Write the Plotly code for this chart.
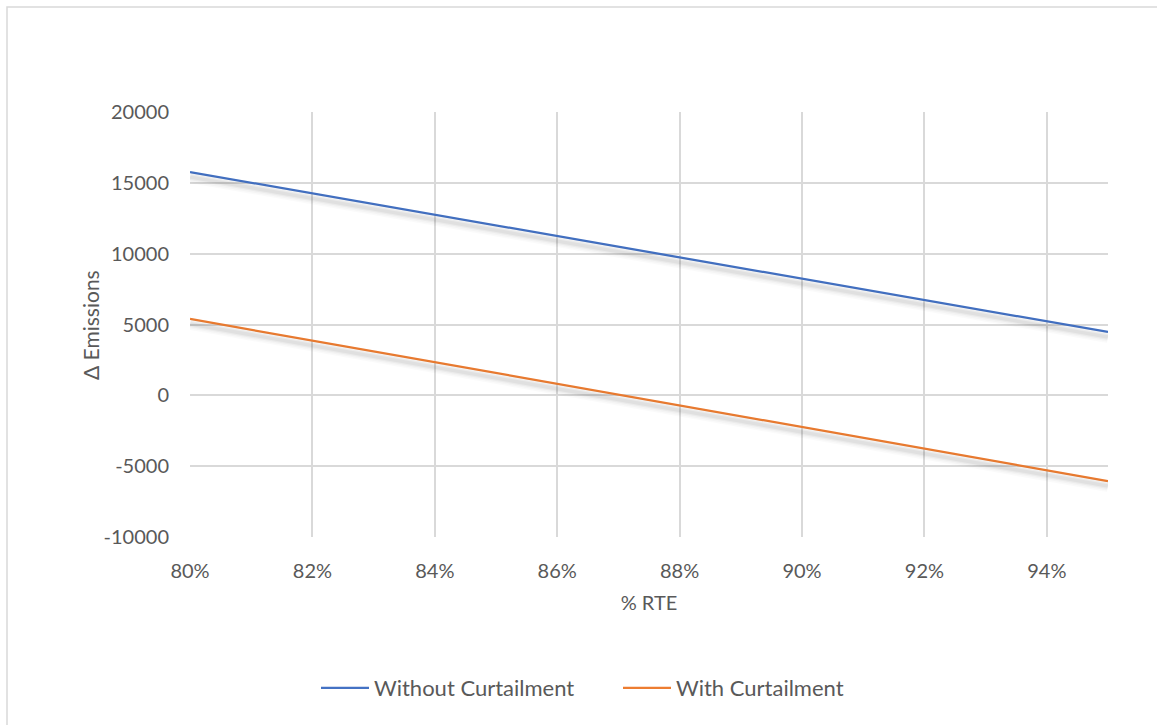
import plotly.graph_objects as go

# Round-trip efficiency (fraction) and change in emissions for each case
rte = [0.80, 0.82, 0.84, 0.86, 0.88, 0.90, 0.92, 0.94, 0.95]
without_curtailment = [15760, 14260, 12760, 11250, 9750, 8240, 6730, 5220, 4470]
with_curtailment = [5390, 3860, 2330, 800, -730, -2260, -3790, -5320, -6050]

x_ticks = [0.80, 0.82, 0.84, 0.86, 0.88, 0.90, 0.92, 0.94]
x_tick_text = ["80%", "82%", "84%", "86%", "88%", "90%", "92%", "94%"]
y_ticks = [-10000, -5000, 0, 5000, 10000, 15000, 20000]
y_tick_text = ["-10000", "-5000", "0", "5000", "10000", "15000", "20000"]

BLUE = "#4472C4"
ORANGE = "#ED7D31"
GRID = "#D9D9D9"
TEXT = "#595959"
FONT = "Lato, 'Open Sans', sans-serif"

W, H = 1157, 725
L, R, T, B = 190, 49, 112, 188
Y_RANGE = [-10000, 20000]
plot_h = H - T - B
plot_w = W - L - R
shadow_px = 5
shadow_shift = shadow_px * (Y_RANGE[1] - Y_RANGE[0]) / plot_h

fig = go.Figure()

# Soft drop shadows under each line, drawn on a slightly shifted twin axis
for series in (without_curtailment, with_curtailment):
    for width, alpha in ((12, 0.02), (9, 0.025), (6, 0.035), (3.5, 0.045)):
        fig.add_trace(go.Scatter(
            x=rte, y=series, mode="lines", yaxis="y2",
            line=dict(color=f"rgba(0,0,0,{alpha})", width=width),
            showlegend=False, hoverinfo="skip",
        ))

fig.add_trace(go.Scatter(
    x=rte, y=without_curtailment, mode="lines", name="Without Curtailment",
    line=dict(color=BLUE, width=2.25),
))
fig.add_trace(go.Scatter(
    x=rte, y=with_curtailment, mode="lines", name="With Curtailment",
    line=dict(color=ORANGE, width=2.25),
))

fig.update_layout(
    width=W, height=H,
    margin=dict(l=L, r=R, t=T, b=B),
    paper_bgcolor="white", plot_bgcolor="white",
    font=dict(family=FONT, size=20, color=TEXT),
    showlegend=True,
    legend=dict(
        orientation="h", x=(316 - L) / plot_w, xanchor="left",
        y=-(688 - (H - B)) / plot_h, yanchor="middle",
        font=dict(size=22, color=TEXT), itemwidth=48,
        entrywidth=239, entrywidthmode="pixels",
        tracegroupgap=0,
    ),
    xaxis=dict(
        range=[0.80, 0.95], tickvals=x_ticks, ticktext=x_tick_text,
        showgrid=True, gridcolor=GRID, gridwidth=1.5,
        zeroline=False, showline=False, ticks="",
        ticklabelstandoff=20, tickfont=dict(size=20),
        title=dict(text="% RTE", font=dict(size=20, color=TEXT), standoff=14),
    ),
    yaxis=dict(
        range=Y_RANGE, tickvals=y_ticks, ticktext=y_tick_text,
        showgrid=True, gridcolor=GRID, gridwidth=1.5,
        zeroline=False, showline=False, ticks="",
        ticklabelstandoff=20, tickfont=dict(size=20),
    ),
    yaxis2=dict(
        range=[Y_RANGE[0] + shadow_shift, Y_RANGE[1] + shadow_shift],
        overlaying="y", visible=False, showgrid=False,
    ),
)

# Vertical axis title
fig.add_annotation(
    text="Δ Emissions", xref="paper", yref="paper",
    x=(90 - L) / plot_w, y=(H - B - 325) / plot_h,
    xanchor="center", yanchor="middle", textangle=-90, showarrow=False,
    font=dict(size=21, color=TEXT),
)

# Chart-area border (extends past the right and bottom edges of the page)
fig.add_shape(
    type="rect", xref="paper", yref="paper", layer="below",
    x0=(7 - L) / plot_w, x1=(W + 20 - L) / plot_w,
    y0=-(H + 20 - (H - B)) / plot_h, y1=(H - B - 7) / plot_h,
    line=dict(color=GRID, width=1.5), fillcolor="rgba(0,0,0,0)",
)

fig.write_html("out.html")
